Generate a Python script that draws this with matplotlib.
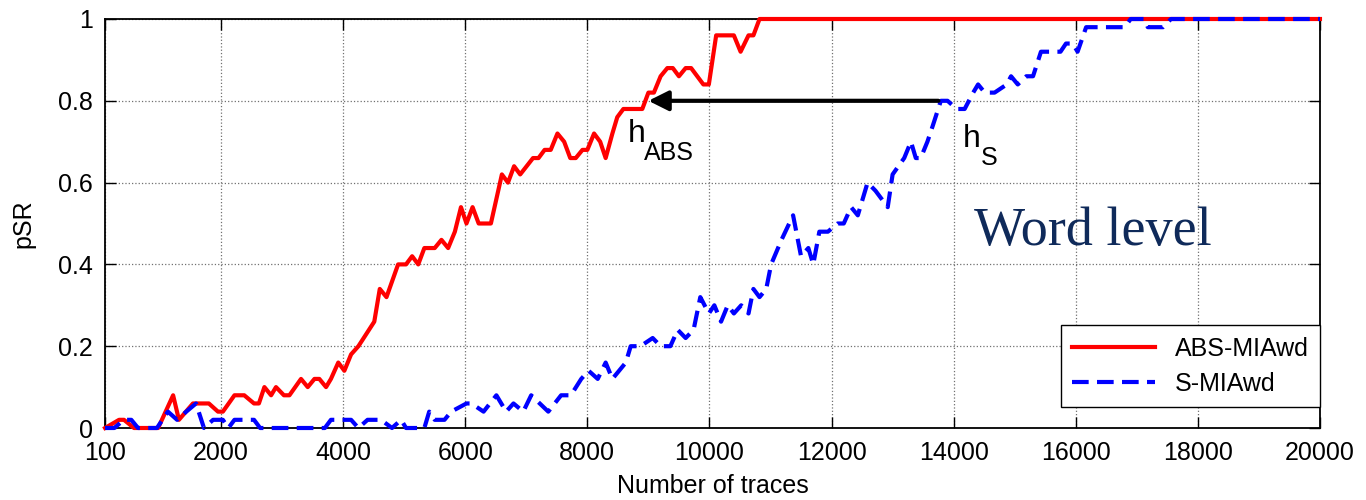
import numpy as np
import matplotlib.pyplot as plt

# ABS-MIAwd (red, solid): number of traces / pSR
abs_traces = [100, 330, 410, 575, 970, 1215, 1310, 1540, 1800, 1950, 2030, 2220, 2380,
              2540, 2620, 2710, 2820, 2900, 3030, 3120, 3310, 3420, 3530, 3610, 3720,
              3800, 3920, 4020, 4130, 4250, 4510, 4600, 4710, 4900, 5030, 5130, 5230,
              5330, 5500, 5610, 5720, 5830, 5930, 6020, 6120, 6220, 6420, 6600, 6700,
              6800, 6900, 7110, 7200, 7300, 7400, 7510, 7620, 7720, 7810, 7920, 8000,
              8110, 8210, 8300, 8410, 8490, 8590, 8900, 9000, 9090, 9200, 9310, 9400,
              9500, 9610, 9700, 9900, 9990, 10110, 10400, 10510, 10640, 10720, 10820,
              20000]
abs_psr = [0, 0.02, 0.02, 0, 0, 0.08, 0.02, 0.06, 0.06, 0.04, 0.04, 0.08, 0.08,
           0.06, 0.06, 0.10, 0.08, 0.10, 0.08, 0.08, 0.12, 0.10, 0.12, 0.12, 0.10,
           0.12, 0.16, 0.14, 0.18, 0.20, 0.26, 0.34, 0.32, 0.40, 0.40, 0.42, 0.40,
           0.44, 0.44, 0.46, 0.44, 0.48, 0.54, 0.50, 0.54, 0.50, 0.50, 0.62, 0.60,
           0.64, 0.62, 0.66, 0.66, 0.68, 0.68, 0.72, 0.70, 0.66, 0.66, 0.68, 0.68,
           0.72, 0.70, 0.66, 0.72, 0.76, 0.78, 0.78, 0.82, 0.82, 0.86, 0.88, 0.88,
           0.86, 0.88, 0.88, 0.84, 0.84, 0.96, 0.96, 0.92, 0.96, 0.96, 1.0,
           1.0]

# S-MIAwd (blue, dashed)
s_traces = [100, 250, 410, 530, 640, 950, 1130, 1280, 1430, 1590, 1720, 1870, 2030,
            2120, 2220, 2540, 2640, 3700, 3800, 4130, 4250, 4400, 4620, 4800, 4950,
            5030, 5330, 5410, 5500, 5660, 5770, 6020, 6100, 6300, 6510, 6670, 6790,
            6950, 7080, 7220, 7360, 7570, 7730, 7900, 8020, 8170, 8300, 8410, 8630,
            8710, 8870, 9070, 9200, 9360, 9480, 9610, 9740, 9850, 9990, 10080, 10190,
            10300, 10400, 10520, 10640, 10720, 10820, 10930, 11010, 11180, 11370,
            11500, 11620, 11700, 11800, 11940, 12100, 12200, 12320, 12430, 12590,
            12720, 12920, 13000, 13190, 13300, 13380, 13460, 13570, 13660, 13790,
            13900, 14050, 14180, 14320, 14400, 14510, 14670, 14870, 14940, 15050,
            15190, 15300, 15430, 15620, 15750, 15840, 15950, 16030, 16170, 16800,
            16900, 17120, 17180, 17430, 17560, 20000]
s_psr = [0, 0, 0.02, 0.02, 0, 0, 0.04, 0.02, 0.04, 0.06, 0, 0.02, 0.02,
         0, 0.02, 0.02, 0, 0, 0.02, 0.02, 0, 0.02, 0.02, 0, 0.02,
         0, 0, 0.04, 0.02, 0.02, 0.04, 0.06, 0.06, 0.04, 0.08, 0.04, 0.06,
         0.04, 0.08, 0.06, 0.04, 0.08, 0.08, 0.12, 0.14, 0.12, 0.16, 0.12, 0.16,
         0.20, 0.20, 0.22, 0.20, 0.20, 0.24, 0.22, 0.24, 0.32, 0.28, 0.30, 0.26,
         0.30, 0.28, 0.30, 0.28, 0.34, 0.32, 0.34, 0.40, 0.46, 0.52,
         0.42, 0.44, 0.40, 0.48, 0.48, 0.50, 0.50, 0.54, 0.52, 0.60,
         0.58, 0.54, 0.62, 0.66, 0.70, 0.66, 0.66, 0.70, 0.74, 0.80,
         0.80, 0.78, 0.78, 0.82, 0.84, 0.82, 0.82, 0.84, 0.86, 0.84,
         0.86, 0.86, 0.92, 0.92, 0.92, 0.94, 0.94, 0.92, 0.98, 0.98,
         1.0, 1.0, 0.98, 0.98, 1.0, 1.0]

x_ticks = [100, 2000, 4000, 6000, 8000, 10000, 12000, 14000, 16000, 18000, 20000]
y_ticks = [0, 0.2, 0.4, 0.6, 0.8, 1]
y_ticklabels = ['0', '0.2', '0.4', '0.6', '0.8', '1']

plt.rcParams['font.family'] = ['Liberation Sans', 'DejaVu Sans']

fig = plt.figure(figsize=(13.66, 5), dpi=100)
ax = fig.add_axes([0.0769, 0.144, 0.8894, 0.818])

ax.plot(abs_traces, abs_psr, color='#ff0000', lw=3, label='ABS-MIAwd', clip_on=False, zorder=3)
ax.plot(s_traces, s_psr, color='#0000ff', lw=3, ls=(0, (4, 2)), label='S-MIAwd', clip_on=False, zorder=4)

ax.set_xlim(100, 20000)
ax.set_ylim(0, 1)
ax.set_xticks(x_ticks)
ax.set_xticklabels([str(t) for t in x_ticks])
ax.set_yticks(y_ticks)
ax.set_yticklabels(y_ticklabels)

ax.grid(True, ls=':', color='#707070', lw=0.9)
ax.tick_params(direction='in', length=8, width=1, top=True, right=True, labelsize=18, pad=9)
for sp in ax.spines.values():
    sp.set_linewidth(1.3)

ax.set_xlabel('Number of traces', fontsize=18, labelpad=7)
ax.set_ylabel('pSR', fontsize=18, labelpad=16)

# arrow from h_S to h_ABS
ax.annotate('', xy=(9000, 0.8), xytext=(13750, 0.8),
            arrowprops=dict(arrowstyle='-|>', lw=3, color='black',
                            mutation_scale=30, shrinkA=0, shrinkB=0), zorder=5)
ax.text(8657, 0.70, 'h', fontsize=23, va='baseline', ha='left')
ax.text(8920, 0.655, 'ABS', fontsize=18, va='baseline', ha='left')
ax.text(14150, 0.687, 'h', fontsize=23, va='baseline', ha='left')
ax.text(14440, 0.643, 'S', fontsize=18, va='baseline', ha='left')

ax.text(14330, 0.447, 'Word level', fontsize=39, color='#0f2a5a',
        family=['Liberation Serif', 'DejaVu Serif'], va='baseline', ha='left')

leg = ax.legend(loc='lower right', bbox_to_anchor=(1.0, 0.051), borderaxespad=0,
                fancybox=False, edgecolor='black', fontsize=18, handlelength=3.3,
                framealpha=1, borderpad=0.45, labelspacing=0.45)
leg.get_frame().set_linewidth(1.0)

fig.savefig('out.png', dpi=100)
